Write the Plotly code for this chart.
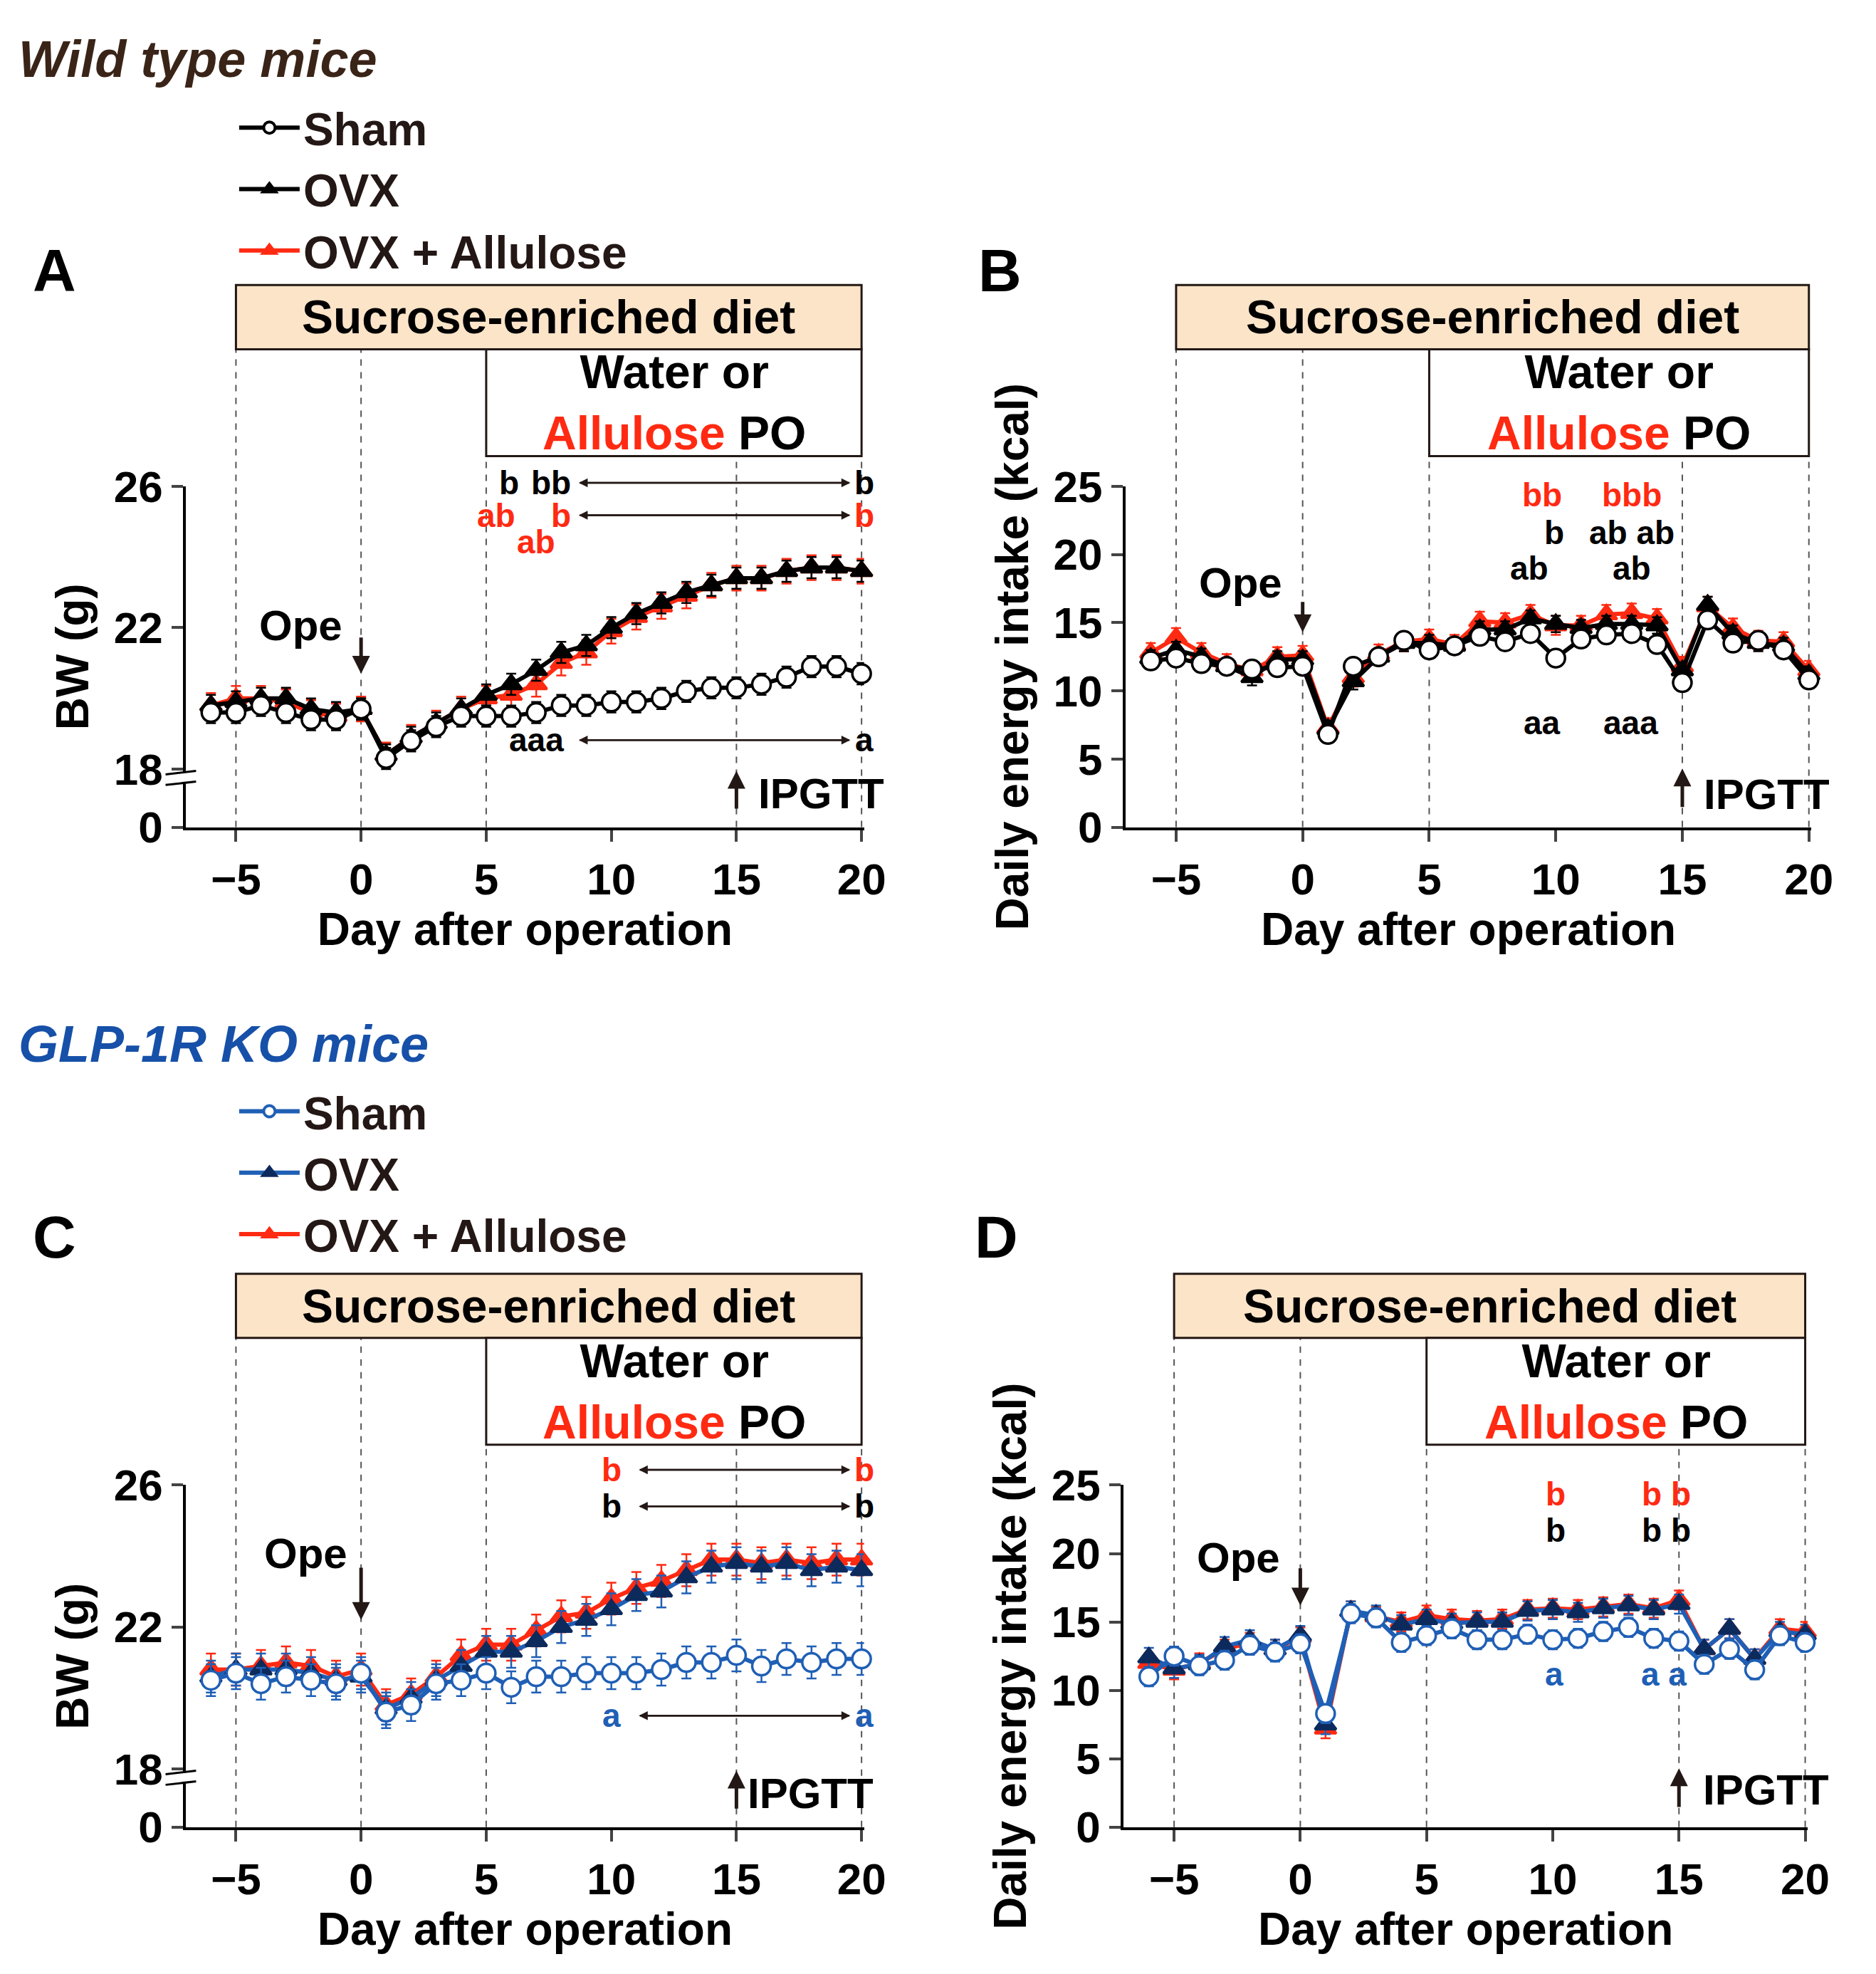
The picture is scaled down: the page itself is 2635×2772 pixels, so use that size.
import plotly.graph_objects as go

days = list(range(-6, 21))

# Panel A: WT body weight (g)
a_sham = [19.6,19.6,19.8,19.6,19.4,19.4,19.7,18.3,18.8,19.2,19.5,19.5,19.5,19.6,19.8,19.8,19.9,19.9,20.0,20.2,20.3,20.3,20.4,20.6,20.9,20.9,20.7]
a_ovx = [19.8,19.9,20.0,20.0,19.7,19.6,19.7,18.4,18.9,19.3,19.7,20.1,20.4,20.8,21.3,21.5,22.0,22.4,22.7,23.0,23.2,23.4,23.4,23.6,23.7,23.7,23.6]
a_all = [19.8,20.0,20.0,19.9,19.6,19.5,19.7,18.4,18.9,19.3,19.7,20.0,20.1,20.4,21.0,21.3,21.9,22.3,22.6,22.9,23.2,23.4,23.4,23.6,23.7,23.7,23.6]
# Panel B: WT daily energy intake (kcal)
b_sham = [12.2,12.4,12.0,11.8,11.6,11.7,11.8,6.8,11.8,12.5,13.7,13.0,13.3,14.0,13.6,14.2,12.4,13.8,14.1,14.2,13.4,10.6,15.2,13.5,13.7,13.0,10.8]
b_ovx = [12.4,13.0,12.5,11.8,11.0,12.3,12.3,7.2,10.7,12.5,13.5,13.5,13.3,14.5,14.5,15.3,14.9,14.6,14.9,14.9,14.8,11.5,16.3,14.2,13.5,13.3,11.2]
b_all = [12.8,13.9,12.8,12.0,11.5,12.5,12.6,7.3,11.0,12.7,13.6,13.8,13.4,15.1,15.0,15.6,14.8,14.8,15.6,15.7,15.3,11.8,16.2,14.6,13.7,13.6,11.5]
# Panel C: GLP-1R KO body weight (g)
c_sham = [20.5,20.7,20.4,20.6,20.5,20.4,20.7,19.6,19.8,20.4,20.5,20.7,20.3,20.6,20.6,20.7,20.7,20.7,20.8,21.0,21.0,21.2,20.9,21.1,21.0,21.1,21.1]
c_ovx = [20.6,20.8,20.8,20.8,20.7,20.5,20.6,19.7,20.0,20.5,20.9,21.3,21.3,21.6,22.0,22.2,22.5,22.9,23.0,23.4,23.7,23.8,23.7,23.8,23.6,23.7,23.6]
c_all = [20.8,20.8,20.9,21.0,20.9,20.6,20.8,19.8,20.1,20.6,21.2,21.5,21.5,21.9,22.3,22.4,22.8,23.1,23.3,23.6,23.9,23.9,23.8,23.9,23.8,23.9,23.9]
# Panel D: GLP-1R KO daily energy intake (kcal)
d_sham = [11.0,12.5,11.8,12.2,13.3,12.8,13.4,8.3,15.6,15.3,13.5,14.0,14.5,13.7,13.7,14.1,13.7,13.8,14.3,14.6,13.8,13.6,11.9,13.0,11.5,14.0,13.5]
d_ovx = [12.4,11.6,11.9,13.2,13.7,13.0,14.0,7.5,15.8,15.5,14.8,15.2,14.9,15.0,15.0,15.8,15.9,15.7,16.0,16.2,15.9,16.3,13.0,14.5,12.3,14.3,14.1]
d_all = [12.0,11.5,12.0,13.0,13.5,13.0,13.9,7.2,15.8,15.4,15.0,15.5,15.2,15.1,15.2,15.9,16.0,15.9,16.1,16.3,16.0,16.6,13.0,14.5,12.3,14.5,14.3]

FONT = "Liberation Sans, Arial, sans-serif"
RED = "#ff2a12"
BLUE = "#1f5fb5"
NAVY = "#0d2a5c"
BR = "#231815"

fig = go.Figure()

def add(ax, y, err, name, lcol, mcol, mfill, sym, msize, leg):
    fig.add_trace(go.Scatter(
        x=days, y=y, mode="lines+markers", name=name, xaxis="x"+ax, yaxis="y"+ax,
        line=dict(color=lcol, width=6),
        marker=dict(symbol=sym, size=msize, color=mfill, line=dict(color=mcol, width=3.5)),
        error_y=dict(type="constant", value=err, color=lcol, thickness=2.5, width=7),
        legend=leg, showlegend=False, cliponaxis=False))

add("", a_all, 0.35, "OVX + Allulose", RED, RED, RED, "triangle-up", 26, "legend")
add("", a_ovx, 0.3, "OVX", "black", "black", "black", "triangle-up", 26, "legend")
add("", a_sham, 0.3, "Sham", "black", "black", "white", "circle", 26, "legend")
add("2", b_all, 0.7, "OVX + Allulose", RED, RED, RED, "triangle-up", 26, "legend")
add("2", b_ovx, 0.6, "OVX", "black", "black", "black", "triangle-up", 26, "legend")
add("2", b_sham, 0.6, "Sham", "black", "black", "white", "circle", 26, "legend")
add("3", c_all, 0.45, "OVX + Allulose", RED, RED, RED, "triangle-up", 26, "legend2")
add("3", c_ovx, 0.45, "OVX", BLUE, NAVY, NAVY, "triangle-up", 26, "legend2")
add("3", c_sham, 0.45, "Sham", BLUE, BLUE, "white", "circle", 26, "legend2")
add("4", d_all, 0.7, "OVX + Allulose", RED, RED, RED, "triangle-up", 26, "legend2")
add("4", d_ovx, 0.7, "OVX", BLUE, NAVY, NAVY, "triangle-up", 26, "legend2")
add("4", d_sham, 0.7, "Sham", BLUE, BLUE, "white", "circle", 26, "legend2")

for leg, ax, items in [("legend", "", [("Sham","black","black","white","circle"),("OVX","black","black","black","triangle-up"),("OVX + Allulose",RED,RED,RED,"triangle-up")]),
                       ("legend2", "3", [("Sham",BLUE,BLUE,"white","circle"),("OVX",BLUE,NAVY,NAVY,"triangle-up"),("OVX + Allulose",RED,RED,RED,"triangle-up")])]:
    for nm, lc, mc, mf, sym in items:
        fig.add_trace(go.Scatter(x=[None], y=[None], mode="lines+markers", name=nm, xaxis="x"+ax, yaxis="y"+ax,
                                 line=dict(color=lc, width=6),
                                 marker=dict(symbol=sym, size=32, color=mf, line=dict(color=mc, width=4)),
                                 legend=leg, showlegend=True))

tickfont = dict(family=FONT, size=62, color="black", weight="bold")
titlefont = dict(family=FONT, size=64, color="black", weight="bold")
xcommon = dict(range=[-7, 20.1], tickvals=[-5, 0, 5, 10, 15, 20], ticktext=["\u22125","0","5","10","15","20"],
               showline=True, linecolor="black", linewidth=4, ticks="outside", ticklen=16, tickwidth=4,
               showgrid=False, zeroline=False, tickfont=tickfont,
               title=dict(text="Day after operation", font=titlefont, standoff=10))
BWZ = 18 - 46/28.0
ybw = dict(range=[BWZ, 26], tickvals=[BWZ, 18, 22, 26], ticktext=["0","18","22","26"],
           showline=True, linecolor="black", linewidth=4, ticks="outside", ticklen=16, tickwidth=4,
           showgrid=False, zeroline=False, tickfont=tickfont,
           title=dict(text="BW (g)", font=titlefont, standoff=15))
yen = dict(range=[0, 25], tickvals=[0,5,10,15,20,25],
           showline=True, linecolor="black", linewidth=4, ticks="outside", ticklen=16, tickwidth=4,
           showgrid=False, zeroline=False, tickfont=tickfont,
           title=dict(text="Daily energy intake (kcal)", font=titlefont, standoff=15))
RANGES = {"": (BWZ, 26), "2": (0, 25), "3": (BWZ, 26), "4": (0, 25)}

yA = [0.5858, 0.7629]
yC = [0.0663, 0.2440]
xL = [0.0972, 0.463]
xR = [0.604, 0.974]
xD = [0.603, 0.972]
fig.update_layout(
    width=2635, height=2772, autosize=False, margin=dict(l=0, r=0, t=0, b=0),
    paper_bgcolor="white", plot_bgcolor="white",
    xaxis=dict(domain=xL, anchor="y", **xcommon), yaxis=dict(domain=yA, anchor="x", **ybw),
    xaxis2=dict(domain=xR, anchor="y2", **xcommon), yaxis2=dict(domain=yA, anchor="x2", **yen),
    xaxis3=dict(domain=xL, anchor="y3", **xcommon), yaxis3=dict(domain=yC, anchor="x3", **ybw),
    xaxis4=dict(domain=xD, anchor="y4", **xcommon), yaxis4=dict(domain=yC, anchor="x4", **yen),
    legend=dict(x=0.124, y=0.967, xanchor="left", yanchor="top", font=dict(family=FONT, size=64, color=BR, weight="bold"),
                bgcolor="rgba(0,0,0,0)", itemwidth=85, tracegroupgap=0),
    legend2=dict(x=0.124, y=0.456, xanchor="left", yanchor="top", font=dict(family=FONT, size=64, color=BR, weight="bold"),
                 bgcolor="rgba(0,0,0,0)", itemwidth=85, tracegroupgap=0),
)

shapes = []
ann = []

def yconv(y, ax):
    lo, hi = RANGES[ax]
    if y > hi:
        return (y - lo) / (hi - lo), "y" + ax + " domain"
    return y, "y" + ax

def T(text, x, y, ax, size=46, color="black", xanchor="center"):
    yy, yr = yconv(y, ax)
    ann.append(dict(text=text, x=x, y=yy, xref="x"+ax, yref=yr, showarrow=False,
                    font=dict(family=FONT, size=size, color=color, weight="bold"), xanchor=xanchor, yanchor="middle"))

def dbl(x0, x1, y, ax):
    yy, yr = yconv(y, ax)
    for a, b in [(x0, x1), (x1, x0)]:
        ann.append(dict(x=b, y=yy, ax=a, ay=yy, xref="x"+ax, yref=yr, axref="x"+ax, ayref=yr,
                        showarrow=True, arrowhead=2, arrowsize=1, arrowwidth=2.5, arrowcolor=BR, text=""))

def arrow(x, y0, y1, ax):
    ann.append(dict(x=x, y=y1, ax=x, ay=y0, xref="x"+ax, yref="y"+ax, axref="x"+ax, ayref="y"+ax,
                    showarrow=True, arrowhead=2, arrowsize=1, arrowwidth=5, arrowcolor=BR, text=""))

def boxes(ax, ytop, ymid, ybot, ybase):
    xr = "x"+ax
    shapes.append(dict(type="rect", xref=xr, yref="paper", x0=-5, x1=20, y0=ymid, y1=ytop,
                       fillcolor="#fce4c8", line=dict(color=BR, width=3)))
    shapes.append(dict(type="rect", xref=xr, yref="paper", x0=5, x1=20, y0=ybot, y1=ymid,
                       fillcolor="white", line=dict(color=BR, width=3)))
    for xv, yt in [(-5, ymid), (0, ymid), (5, ybot), (15, ybot), (20, ybot)]:
        shapes.append(dict(type="line", xref=xr, yref="paper", x0=xv, x1=xv, y0=ybase, y1=yt,
                           line=dict(color="#555", width=2, dash="dash"), layer="below"))
    ann.append(dict(text="Sucrose-enriched diet", x=7.5, y=(ytop+ymid)/2, xref=xr, yref="paper", showarrow=False,
                    yanchor="middle", font=dict(family=FONT, size=66, color="black", weight="bold")))
    ann.append(dict(text="Water or<br><span style='color:%s'>Allulose</span> PO" % RED, x=12.5, y=(ymid+ybot)/2, xref=xr, yref="paper",
                    yanchor="middle", showarrow=False, font=dict(family=FONT, size=66, color="black", weight="bold")))

boxes("", 0.8675, 0.8341, 0.7786, yA[0])
boxes("2", 0.8675, 0.8341, 0.7786, yA[0])
boxes("3", 0.3538, 0.3205, 0.2650, yC[0])
boxes("4", 0.3538, 0.3205, 0.2650, yC[0])

for ax in ["", "3"]:
    shapes.append(dict(type="rect", xref="x"+ax+" domain", yref="y"+ax, x0=-0.03, x1=0.015, y0=17.6, y1=17.9,
                       fillcolor="white", line=dict(width=0)))
    for yy in [17.6, 17.9]:
        shapes.append(dict(type="line", xref="x"+ax+" domain", yref="y"+ax, x0=-0.03, x1=0.015, y0=yy-0.05, y1=yy+0.05,
                           line=dict(color="black", width=3)))

# Panel A
T("b", 5.9, 26.1, ""); T("bb", 7.6, 26.1, ""); dbl(8.7, 19.55, 26.1, ""); T("b", 20.1, 26.1, "")
T("ab", 5.4, 25.18, "", color=RED); T("b", 8.0, 25.18, "", color=RED); dbl(8.7, 19.55, 25.18, ""); T("b", 20.1, 25.18, "", color=RED)
T("ab", 7.0, 24.43, "", color=RED)
T("aaa", 7.0, 18.82, ""); dbl(8.7, 19.55, 18.82, ""); T("a", 20.1, 18.82, "")
T("Ope", -2.4, 22.05, "", size=60); arrow(0, 21.75, 20.7, "")
T("IPGTT", 15.8, 17.3, "", size=60, xanchor="left"); arrow(15, 16.85, 17.95, "")
# Panel B
T("bb", 9.45, 24.35, "2", color=RED); T("bbb", 13.0, 24.35, "2", color=RED)
T("b", 9.95, 21.6, "2"); T("ab ab", 13.0, 21.6, "2")
T("ab", 8.95, 19.0, "2"); T("ab", 13.0, 19.0, "2")
T("aa", 9.45, 7.65, "2"); T("aaa", 12.95, 7.65, "2")
T("Ope", -2.45, 17.9, "2", size=60); arrow(0, 16.6, 14.3, "2")
T("IPGTT", 15.8, 2.4, "2", size=60, xanchor="left"); arrow(15, 1.4, 4.3, "2")
# Panel C
T("b", 10.0, 26.43, "3", color=RED); dbl(11.1, 19.55, 26.43, "3"); T("b", 20.1, 26.43, "3", color=RED)
T("b", 10.0, 25.4, "3"); dbl(11.1, 19.55, 25.4, "3"); T("b", 20.1, 25.4, "3")
T("a", 10.0, 19.5, "3", color=BLUE); dbl(11.1, 19.55, 19.5, "3"); T("a", 20.1, 19.5, "3", color=BLUE)
T("Ope", -2.2, 24.07, "3", size=60); arrow(0, 23.7, 22.2, "3")
T("IPGTT", 15.4, 17.3, "3", size=60, xanchor="left"); arrow(15, 16.85, 17.95, "3")
# Panel D
T("b", 10.1, 24.35, "4", color=RED); T("b b", 14.5, 24.35, "4", color=RED)
T("b", 10.1, 21.7, "4"); T("b b", 14.5, 21.7, "4")
T("a", 10.05, 11.2, "4", color=BLUE); T("a a", 14.4, 11.2, "4", color=BLUE)
T("Ope", -2.45, 19.7, "4", size=60); arrow(0, 19.0, 16.2, "4")
T("IPGTT", 15.9, 2.7, "4", size=60, xanchor="left"); arrow(15, 1.4, 4.3, "4")

def P(text, x, y, size, color="black", italic=False):
    ann.append(dict(text=text, x=x, y=y, xref="paper", yref="paper", showarrow=False, xanchor="left", yanchor="middle",
                    font=dict(family=FONT, size=size, color=color, weight="bold", style="italic" if italic else "normal")))
P("Wild type mice", 0.006, 0.985, 72, "#3a2418", True)
P("GLP-1R KO mice", 0.006, 0.473, 72, "#1650a8", True)
P("A", 0.014, 0.875, 84); P("B", 0.524, 0.875, 84)
P("C", 0.014, 0.373, 84); P("D", 0.522, 0.373, 84)

fig.update_layout(shapes=shapes, annotations=ann)
fig.write_html("out.html")
